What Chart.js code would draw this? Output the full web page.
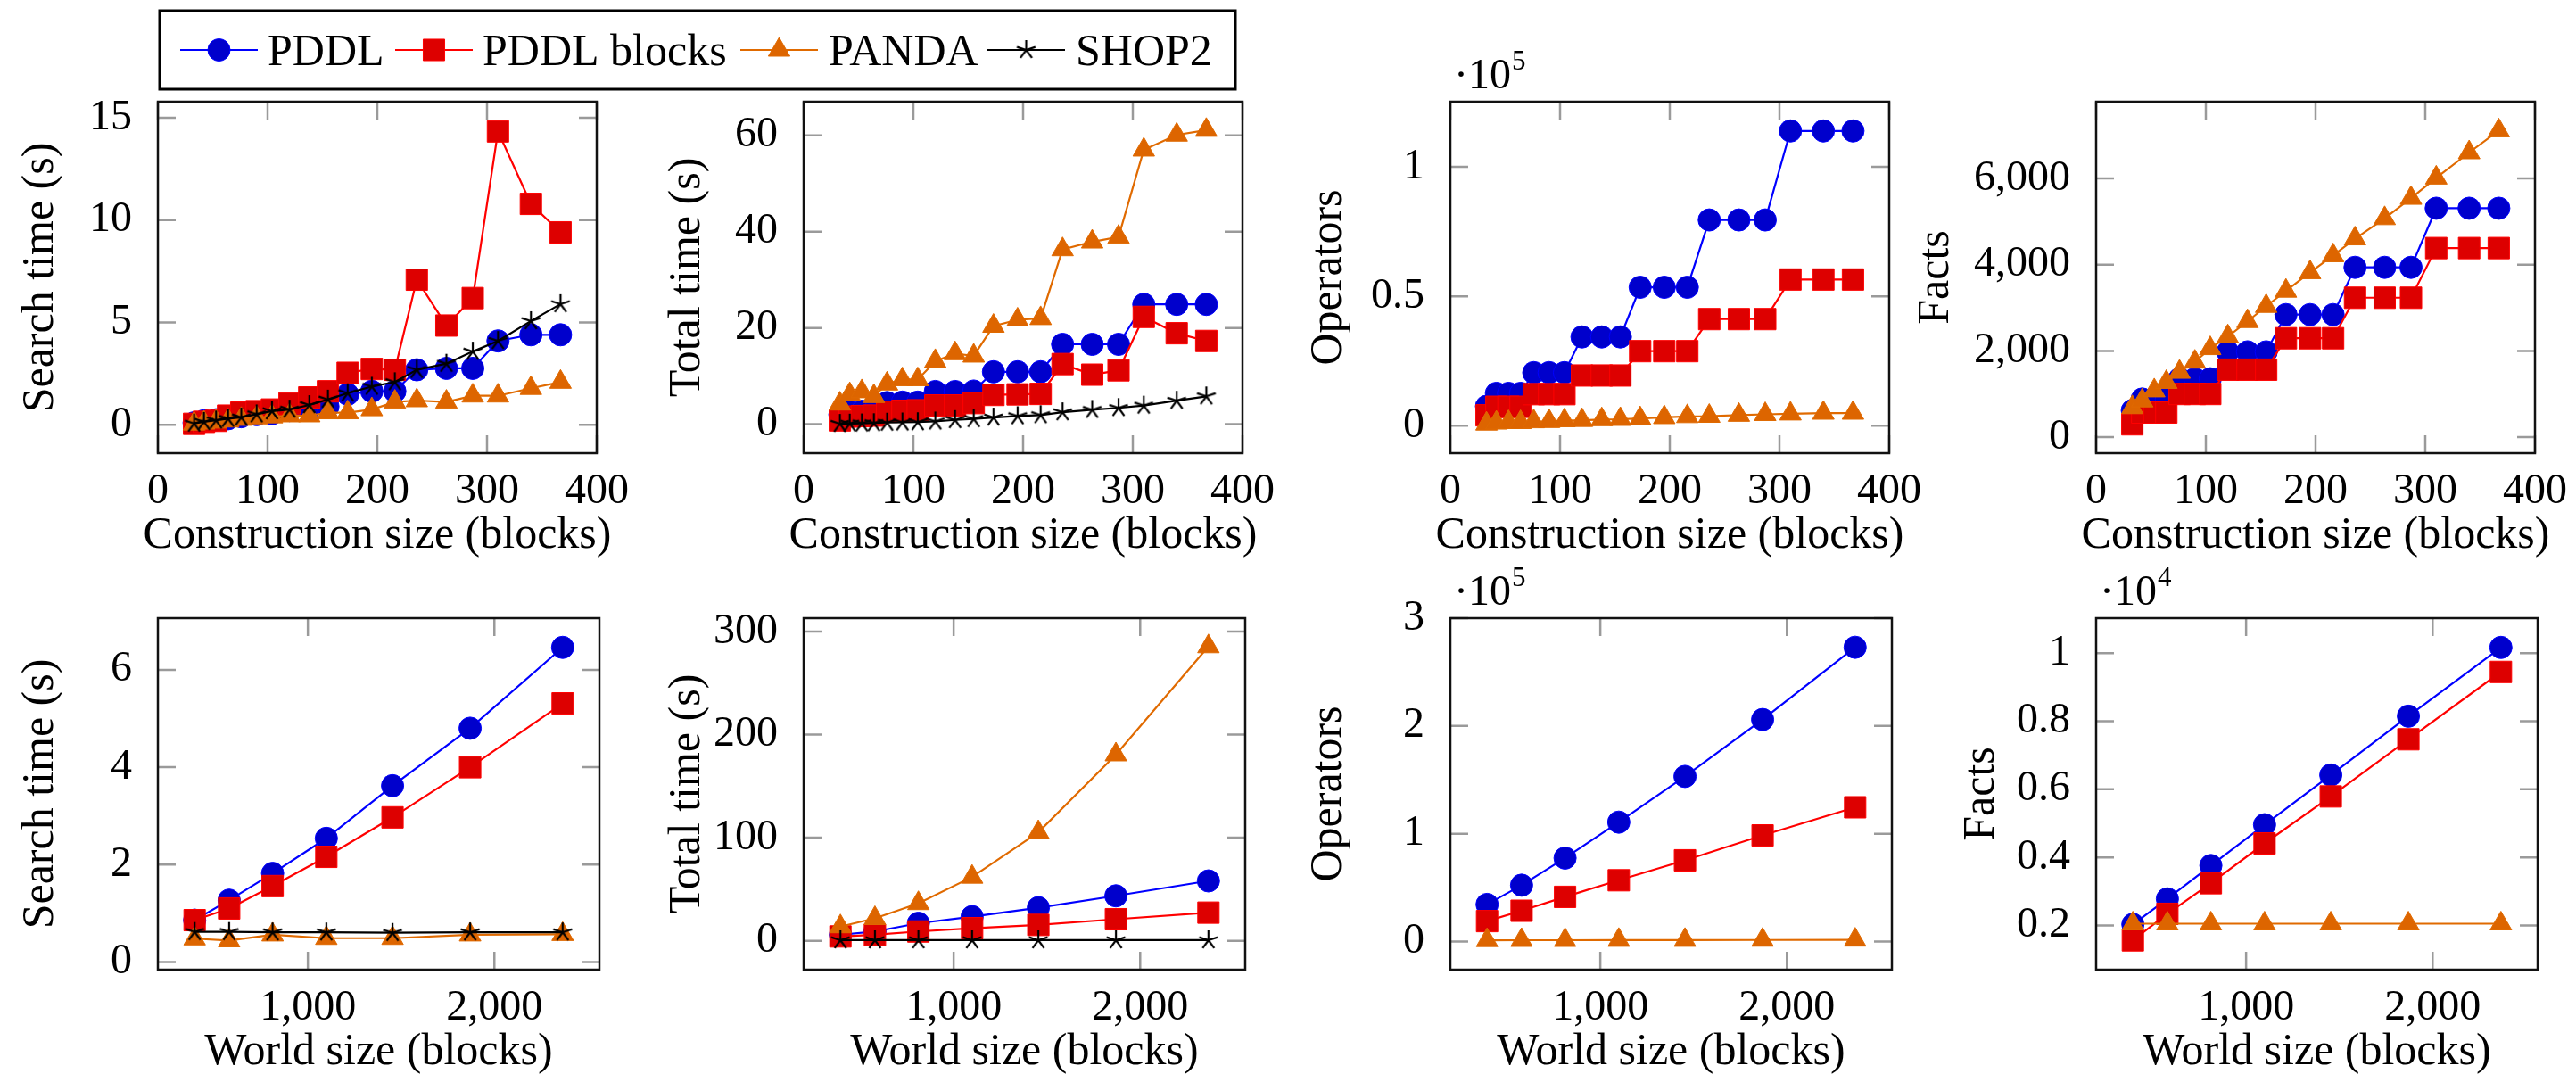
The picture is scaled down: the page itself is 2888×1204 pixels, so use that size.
<!DOCTYPE html>
<html>
<head>
<meta charset="utf-8">
<script src="https://cdn.jsdelivr.net/npm/chart.js@4.4.1/dist/chart.umd.min.js"></script>
<style>
  html, body { margin: 0; padding: 0; background: #fff; }
  body { width: 2888px; height: 1204px; position: relative; overflow: hidden; }
  canvas { position: absolute; }
</style>
</head>
<body>
<canvas id="legend" width="1230" height="110" style="left:170px;top:0px;width:1230px;height:110px"></canvas>
<script>
// x values
const constructionSizes = [33, 42, 53, 64, 76, 90, 104, 120, 138, 155, 173, 195, 216, 236, 263, 287, 310, 340, 367];
const worldSizes = [393, 578, 811, 1099, 1454, 1870, 2366];

// construction size experiments
const searchTimeC_PDDL   = [0.1, 0.2, 0.25, 0.3, 0.4, 0.5, 0.55, 0.7, 0.82, 0.9, 1.49, 1.64, 1.64, 2.69, 2.76, 2.76, 4.1, 4.4, 4.4];
const searchTimeC_Blocks = [0.05, 0.15, 0.2, 0.45, 0.6, 0.67, 0.75, 1.05, 1.34, 1.64, 2.54, 2.73, 2.69, 7.09, 4.85, 6.19, 14.33, 10.79, 9.4];
const searchTimeC_PANDA  = [0.05, 0.1, 0.15, 0.2, 0.28, 0.35, 0.4, 0.45, 0.45, 0.6, 0.6, 0.75, 1.12, 1.19, 1.12, 1.42, 1.42, 1.79, 2.09];
const searchTimeC_SHOP2  = [0.07, 0.15, 0.22, 0.3, 0.37, 0.52, 0.67, 0.75, 0.97, 1.24, 1.55, 1.87, 2.09, 2.69, 2.99, 3.58, 4.1, 5.07, 5.9];

const totalTimeC_PDDL   = [2.0, 2.6, 2.7, 2.7, 4.5, 4.6, 4.6, 6.8, 6.8, 6.9, 10.9, 10.9, 10.9, 16.6, 16.6, 16.6, 24.9, 24.9, 24.9];
const totalTimeC_Blocks = [0.8, 1.6, 1.7, 1.8, 2.6, 2.8, 2.9, 3.9, 3.9, 4.4, 6.1, 6.2, 6.3, 12.5, 10.3, 11.2, 22.3, 18.9, 17.3];
const totalTimeC_PANDA  = [4.25, 6.2, 6.8, 5.8, 8.4, 9.3, 9.3, 13.1, 14.7, 14.2, 20.4, 21.7, 22.0, 36.3, 37.9, 38.9, 57.0, 60.1, 61.1];
const totalTimeC_SHOP2  = [0.1, 0.15, 0.2, 0.25, 0.35, 0.4, 0.45, 0.6, 0.9, 1.1, 1.4, 1.7, 1.9, 2.5, 3.0, 3.4, 3.9, 4.9, 5.8];

const operatorsC_PDDL   = [7500, 12500, 12500, 12500, 20500, 20500, 20500, 34300, 34300, 34300, 53500, 53500, 53500, 79500, 79500, 79500, 113900, 113900, 113900];
const operatorsC_Blocks = [4000, 7300, 7300, 7300, 12200, 12200, 12200, 19400, 19400, 19400, 28800, 28800, 28800, 41200, 41200, 41200, 56500, 56500, 56500];
const operatorsC_PANDA  = [700, 1100, 1300, 1300, 1600, 1700, 2000, 2100, 2400, 2500, 2800, 3200, 3600, 3700, 4100, 4400, 4600, 4900, 4900];

const factsC_PDDL   = [620, 885, 885, 885, 1355, 1355, 1355, 1980, 1980, 1980, 2843, 2843, 2843, 3939, 3939, 3939, 5309, 5309, 5309];
const factsC_Blocks = [298, 572, 572, 572, 1002, 1002, 1002, 1566, 1566, 1566, 2294, 2294, 2294, 3234, 3234, 3234, 4385, 4385, 4385];
const factsC_PANDA  = [690, 846, 1080, 1276, 1511, 1746, 2059, 2334, 2686, 3038, 3391, 3821, 4213, 4604, 5074, 5544, 6014, 6601, 7110];

// world size experiments
const searchTimeW_PDDL   = [0.86, 1.27, 1.82, 2.54, 3.62, 4.80, 6.46];
const searchTimeW_Blocks = [0.86, 1.10, 1.56, 2.16, 2.97, 4.00, 5.31];
const searchTimeW_PANDA  = [0.48, 0.44, 0.56, 0.49, 0.49, 0.56, 0.57];
const searchTimeW_SHOP2  = [0.62, 0.62, 0.61, 0.61, 0.60, 0.61, 0.61];

const totalTimeW_PDDL   = [5.8, 9.0, 17.0, 23.4, 32.1, 43.6, 58.1];
const totalTimeW_Blocks = [4.2, 5.8, 9.0, 12.2, 15.4, 20.9, 27.3];
const totalTimeW_PANDA  = [13.8, 21.8, 36.3, 61.9, 105.2, 180.6, 285.5];
const totalTimeW_SHOP2  = [0.6, 0.6, 0.6, 0.6, 0.6, 0.6, 0.6];

const operatorsW_PDDL   = [34500, 52300, 77500, 110800, 153200, 206000, 273000];
const operatorsW_Blocks = [19000, 28600, 41500, 56900, 75400, 98500, 124600];
const operatorsW_PANDA  = [1200, 1300, 1300, 1400, 1400, 1500, 1600];

const factsW_PDDL   = [2030, 2780, 3760, 4960, 6420, 8150, 10170];
const factsW_Blocks = [1560, 2340, 3240, 4410, 5790, 7470, 9450];
const factsW_PANDA  = [2050, 2050, 2050, 2050, 2050, 2050, 2050];

// tick labels
const ticksConstrX = [0, 100, 200, 300, 400];
const ticksWorldX = [1000, 2000];
const ticksSearchC = [0, 5, 10, 15];
const ticksTotalC = [0, 20, 40, 60];
const ticksOperatorsC = [0, 0.5, 1];
const ticksFactsC = [0, 2000, 4000, 6000];
const ticksSearchW = [0, 2, 4, 6];
const ticksTotalW = [0, 100, 200, 300];
const ticksOperatorsW = [0, 1, 2, 3];
const ticksFactsW = [0.2, 0.4, 0.6, 0.8, 1];

const seriesNames = ['PDDL', 'PDDL blocks', 'PANDA', 'SHOP2'];

// star marker (5 arms, like pgfplots "star")
function makeStar(size, lw) {
  const c = document.createElement('canvas');
  c.width = size; c.height = size;
  const g = c.getContext('2d');
  g.strokeStyle = '#000'; g.lineWidth = lw; g.lineCap = 'butt';
  const r = size / 2 - 1;
  for (let k = 0; k < 5; k++) {
    const a = -Math.PI / 2 + k * 2 * Math.PI / 5;
    g.beginPath();
    g.moveTo(size / 2, size / 2);
    g.lineTo(size / 2 + r * Math.cos(a), size / 2 + r * Math.sin(a));
    g.stroke();
  }
  return c;
}
const starImg = makeStar(24, 2.2);

const styles = [
  { line: '#0000ff', fill: '#0000cc', point: 'circle', r: 12.5 },
  { line: '#ff0000', fill: '#dd0000', point: 'rect', r: 17 },
  { line: '#e06a00', fill: '#dd6500', point: 'triangle', r: 14 },
  { line: '#000000', fill: '#000000', point: starImg, r: 11 }
];

// layout
const BW = 495, BH = 394;
const L = 230, T = 100, R = 40, B = 125;
const colLeft = [177, 901, 1626, 2350];
const rowTop = [114, 693];

const panels = [
  { col: 0, row: 0, x: constructionSizes, xMin: 0, xMax: 400, xTicks: ticksConstrX, yMin: -1.38, yMax: 15.78, yTicks: ticksSearchC,
    div: 1, exp: null, yTitle: 'Search time (s)', xTitle: 'Construction size (blocks)', yOff: 131,
    series: [searchTimeC_PDDL, searchTimeC_Blocks, searchTimeC_PANDA, searchTimeC_SHOP2] },
  { col: 1, row: 0, x: constructionSizes, xMin: 0, xMax: 400, xTicks: ticksConstrX, yMin: -6.0, yMax: 67.0, yTicks: ticksTotalC,
    div: 1, exp: null, yTitle: 'Total time (s)', xTitle: 'Construction size (blocks)', yOff: 130,
    series: [totalTimeC_PDDL, totalTimeC_Blocks, totalTimeC_PANDA, totalTimeC_SHOP2] },
  { col: 2, row: 0, x: constructionSizes, xMin: 0, xMax: 400, xTicks: ticksConstrX, yMin: -0.106, yMax: 1.252, yTicks: ticksOperatorsC,
    div: 1e5, exp: '5', yTitle: 'Operators', xTitle: 'Construction size (blocks)', yOff: 136,
    series: [operatorsC_PDDL, operatorsC_Blocks, operatorsC_PANDA, null] },
  { col: 3, row: 0, x: constructionSizes, xMin: 0, xMax: 400, xTicks: ticksConstrX, yMin: -370, yMax: 7780, yTicks: ticksFactsC,
    div: 1, exp: null, yTitle: 'Facts', xTitle: 'Construction size (blocks)', yOff: 179,
    series: [factsC_PDDL, factsC_Blocks, factsC_PANDA, null] },
  { col: 0, row: 1, x: worldSizes, xMin: 196, xMax: 2563, xTicks: ticksWorldX, yMin: -0.156, yMax: 7.06, yTicks: ticksSearchW,
    div: 1, exp: null, yTitle: 'Search time (s)', xTitle: 'World size (blocks)', yOff: 131,
    series: [searchTimeW_PDDL, searchTimeW_Blocks, searchTimeW_PANDA, searchTimeW_SHOP2] },
  { col: 1, row: 1, x: worldSizes, xMin: 196, xMax: 2563, xTicks: ticksWorldX, yMin: -28, yMax: 313, yTicks: ticksTotalW,
    div: 1, exp: null, yTitle: 'Total time (s)', xTitle: 'World size (blocks)', yOff: 130,
    series: [totalTimeW_PDDL, totalTimeW_Blocks, totalTimeW_PANDA, totalTimeW_SHOP2] },
  { col: 2, row: 1, x: worldSizes, xMin: 196, xMax: 2563, xTicks: ticksWorldX, yMin: -0.26, yMax: 3.0, yTicks: ticksOperatorsW,
    div: 1e5, exp: '5', yTitle: 'Operators', xTitle: 'World size (blocks)', yOff: 136,
    series: [operatorsW_PDDL, operatorsW_Blocks, operatorsW_PANDA, null] },
  { col: 3, row: 1, x: worldSizes, xMin: 196, xMax: 2563, xTicks: ticksWorldX, yMin: 0.070, yMax: 1.103, yTicks: ticksFactsW,
    div: 1e4, exp: '4', yTitle: 'Facts', xTitle: 'World size (blocks)', yOff: 128,
    series: [factsW_PDDL, factsW_Blocks, factsW_PANDA, null] }
];

const FONT = "'Liberation Serif', 'DejaVu Serif', serif";
const fmt = v => Number(v).toLocaleString('en-US', { maximumFractionDigits: 3 });

function framePlugin(p) {
  return {
    id: 'frame',
    beforeDatasetsDraw(chart) {
      const { ctx, chartArea: a, scales } = chart;
      ctx.save();
      ctx.strokeStyle = '#9a9a9a';
      ctx.lineWidth = 2.5;
      ctx.beginPath();
      p.xTicks.forEach(v => {
        const px = scales.x.getPixelForValue(v);
        ctx.moveTo(px, a.bottom); ctx.lineTo(px, a.bottom - 20);
        ctx.moveTo(px, a.top); ctx.lineTo(px, a.top + 20);
      });
      p.yTicks.forEach(v => {
        const py = scales.y.getPixelForValue(v);
        ctx.moveTo(a.left, py); ctx.lineTo(a.left + 20, py);
        ctx.moveTo(a.right, py); ctx.lineTo(a.right - 20, py);
      });
      ctx.stroke();
      ctx.restore();
    },
    afterDraw(chart) {
      const { ctx, chartArea: a } = chart;
      ctx.save();
      ctx.strokeStyle = '#111';
      ctx.lineWidth = 2.5;
      ctx.strokeRect(a.left, a.top, a.right - a.left, a.bottom - a.top);

      ctx.fillStyle = '#000';
      ctx.font = '50px ' + FONT;
      ctx.textAlign = 'center';
      ctx.textBaseline = 'middle';
      ctx.fillText(p.xTitle, (a.left + a.right) / 2, a.bottom + 93);

      ctx.save();
      ctx.translate(a.left - p.yOff, (a.top + a.bottom) / 2);
      ctx.rotate(-Math.PI / 2);
      ctx.fillText(p.yTitle, 0, 0);
      ctx.restore();

      if (p.exp) {
        ctx.textAlign = 'left';
        ctx.textBaseline = 'alphabetic';
        ctx.font = '48px ' + FONT;
        ctx.fillText('\u00b710', a.left + 4, a.top - 15);
        const w = ctx.measureText('\u00b710').width;
        ctx.font = '31px ' + FONT;
        ctx.fillText(p.exp, a.left + 5 + w, a.top - 36);
      }
      ctx.restore();
    }
  };
}

function makePanel(p) {
  const W = L + BW + R, H = T + BH + B;
  const cv = document.createElement('canvas');
  cv.width = W; cv.height = H;
  cv.style.left = (colLeft[p.col] - L) + 'px';
  cv.style.top = (rowTop[p.row] - T) + 'px';
  cv.style.width = W + 'px';
  cv.style.height = H + 'px';
  document.body.appendChild(cv);

  const datasets = [];
  p.series.forEach((ys, i) => {
    if (!ys) return;
    const s = styles[i];
    datasets.push({
      label: seriesNames[i],
      data: p.x.map((x, k) => ({ x: x, y: ys[k] / p.div })),
      borderColor: s.line,
      backgroundColor: s.fill,
      borderWidth: 2.2,
      pointStyle: s.point,
      pointRadius: s.r,
      pointBackgroundColor: s.fill,
      pointBorderColor: s.line,
      pointBorderWidth: 1,
      tension: 0,
      clip: false,
      order: 3 - i
    });
  });

  const tickFont = { family: FONT, size: 48, lineHeight: 1.2 };

  new Chart(cv, {
    type: 'line',
    data: { datasets },
    options: {
      responsive: false,
      animation: false,
      devicePixelRatio: 1,
      layout: { padding: { top: T, right: R, left: 0, bottom: 0 } },
      plugins: { legend: { display: false }, tooltip: { enabled: false } },
      scales: {
        x: {
          type: 'linear', position: 'bottom', min: p.xMin, max: p.xMax,
          afterBuildTicks: ax => { ax.ticks = p.xTicks.map(v => ({ value: v })); },
          afterFit: ax => { ax.height = B; },
          grid: { display: false }, border: { display: false },
          ticks: { padding: 7, color: '#000', font: tickFont, maxRotation: 0, autoSkip: false, callback: v => fmt(v) }
        },
        y: {
          type: 'linear', position: 'left', min: p.yMin, max: p.yMax,
          afterBuildTicks: ax => { ax.ticks = p.yTicks.map(v => ({ value: v })); },
          afterFit: ax => { ax.width = L; },
          grid: { display: false }, border: { display: false },
          ticks: { padding: 21, color: '#000', font: tickFont, autoSkip: false, callback: v => fmt(v) }
        }
      }
    },
    plugins: [framePlugin(p)]
  });
}

// legend (box at page x 179..1385, y 12..100)
function drawLegend() {
  const cv = document.getElementById('legend');
  const g = cv.getContext('2d');
  const ox = 170;
  g.strokeStyle = '#000';
  g.lineWidth = 3;
  g.strokeRect(179 - ox, 12, 1206, 88);
  const iconX = [202, 443, 830, 1107];
  const textX = [300, 541, 929, 1206];
  const cy = 56;
  g.font = '50px ' + FONT;
  g.textBaseline = 'alphabetic';
  g.textAlign = 'left';
  seriesNames.forEach((name, i) => {
    const s = styles[i];
    const x0 = iconX[i] - ox, x1 = x0 + 87;
    g.strokeStyle = s.line;
    g.lineWidth = 2.2;
    g.beginPath(); g.moveTo(x0, cy); g.lineTo(x1, cy); g.stroke();
    const cx = (x0 + x1) / 2;
    g.fillStyle = s.fill;
    g.strokeStyle = s.line;
    g.lineWidth = 1;
    if (typeof s.point === 'string') {
      Chart.helpers.drawPoint(g, { pointStyle: s.point, radius: s.r, rotation: 0, borderWidth: 1 }, cx, cy);
    } else {
      g.drawImage(s.point, cx - s.point.width / 2, cy - s.point.height / 2);
    }
    g.fillStyle = '#000';
    g.fillText(name, textX[i] - ox, 73);
  });
}

function render() {
  panels.forEach(makePanel);
  drawLegend();
}

const fontReady = (document.fonts && document.fonts.load)
  ? Promise.all([document.fonts.load("50px 'Liberation Serif'"), document.fonts.ready]).catch(() => null)
  : Promise.resolve();
fontReady.then(render, render);
</script>
</body>
</html>
